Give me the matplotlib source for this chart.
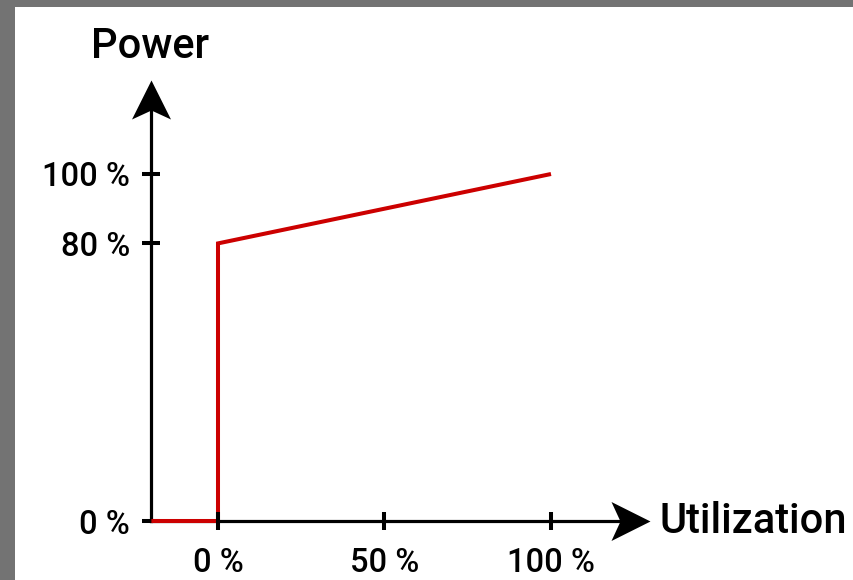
import matplotlib
matplotlib.use("Agg")
import matplotlib.pyplot as plt
from matplotlib.patches import Rectangle
from matplotlib.path import Path
from matplotlib.markers import MarkerStyle

# ---- data ----
util_pct = [-20, 0, 0, 100]
power_pct = [0, 0, 80, 100]
x_ticks = [0, 50, 100]
x_tick_labels = ["0 %", "50 %", "100 %"]
y_ticks = [0, 80, 100]
y_tick_labels = ["0 %", "80 %", "100 %"]
x_title = "Utilization"
y_title = "Power"

plt.rcParams['font.family'] = ['Roboto', 'DejaVu Sans']

W, H, DPI = 854, 580, 100
fig = plt.figure(figsize=(W / DPI, H / DPI), dpi=DPI)
fig.patch.set_facecolor('#737373')
fig.add_artist(Rectangle((15 / W, 0), 1, (H - 7) / H, transform=fig.transFigure,
                         facecolor='white', edgecolor='none', zorder=0))

# axes pixel geometry
left_px, right_px, bottom_px, top_px = 151, 650, 521, 80
ax = fig.add_axes([left_px / W, (H - bottom_px) / H,
                   (right_px - left_px) / W, (bottom_px - top_px) / H])
ax.set_facecolor('none')

xpx_per = (551 - 218) / 100.0
ypx_per = (521 - 174) / 100.0
xmin = (left_px - 218) / xpx_per
xmax = (right_px - 218) / xpx_per
ymin = 0
ymax = (bottom_px - top_px) / ypx_per
ax.set_xlim(xmin, xmax)
ax.set_ylim(ymin, ymax)

for s in ['top', 'right']:
    ax.spines[s].set_visible(False)
for s in ['left', 'bottom']:
    ax.spines[s].set_linewidth(2.3)
    ax.spines[s].set_color('black')
    ax.spines[s].set_zorder(2.5)
ax.spines['bottom'].set_bounds(xmin, xmax - 12 / xpx_per)
ax.spines['left'].set_bounds(ymin, ymax - 12 / ypx_per)

ax.set_xticks(x_ticks)
ax.set_xticklabels(x_tick_labels, fontweight='medium')
ax.set_yticks(y_ticks)
ax.set_yticklabels(y_tick_labels, fontweight='medium')
ax.tick_params(axis='x', direction='inout', length=13, width=2.9, pad=12,
               labelsize=23.5, colors='black')
ax.tick_params(axis='y', direction='inout', length=12.5, width=2.9, pad=9,
               labelsize=23.5, colors='black')
ax.xaxis.set_zorder(3)
ax.yaxis.set_zorder(2.6)

ax.plot(util_pct, power_pct, color='#cc0000', lw=2.9, zorder=2.7,
        clip_on=False, solid_joinstyle='miter', solid_capstyle='butt')

# arrowheads (stealth shape), tip at origin
L, Wd, N = 39.0, 19.5, 30.0
xarrow = Path([(0, 0), (-L, Wd), (-N, 0), (-L, -Wd), (0, 0)],
              [Path.MOVETO, Path.LINETO, Path.LINETO, Path.LINETO, Path.CLOSEPOLY])
yarrow = Path([(0, 0), (Wd, -L), (0, -N), (-Wd, -L), (0, 0)],
              [Path.MOVETO, Path.LINETO, Path.LINETO, Path.LINETO, Path.CLOSEPOLY])
ms = 2 * L * 72 / DPI
ax.plot([xmax], [0], marker=MarkerStyle(xarrow), ms=ms, color='black',
        mec='none', clip_on=False, zorder=4)
ax.plot([xmin], [ymax], marker=MarkerStyle(yarrow), ms=ms, color='black',
        mec='none', clip_on=False, zorder=4)

pt = 72 / DPI
ax.annotate(x_title, xy=(1, 0), xycoords='axes fraction',
            xytext=(10 * pt, -12 * pt), textcoords='offset points',
            ha='left', va='baseline', fontsize=30, fontweight='medium')
ax.annotate(y_title, xy=(0, 1), xycoords='axes fraction',
            xytext=(-1 * pt, 22 * pt), textcoords='offset points',
            ha='center', va='baseline', fontsize=30, fontweight='medium')

fig.savefig('out.png', dpi=DPI, facecolor=fig.get_facecolor())
